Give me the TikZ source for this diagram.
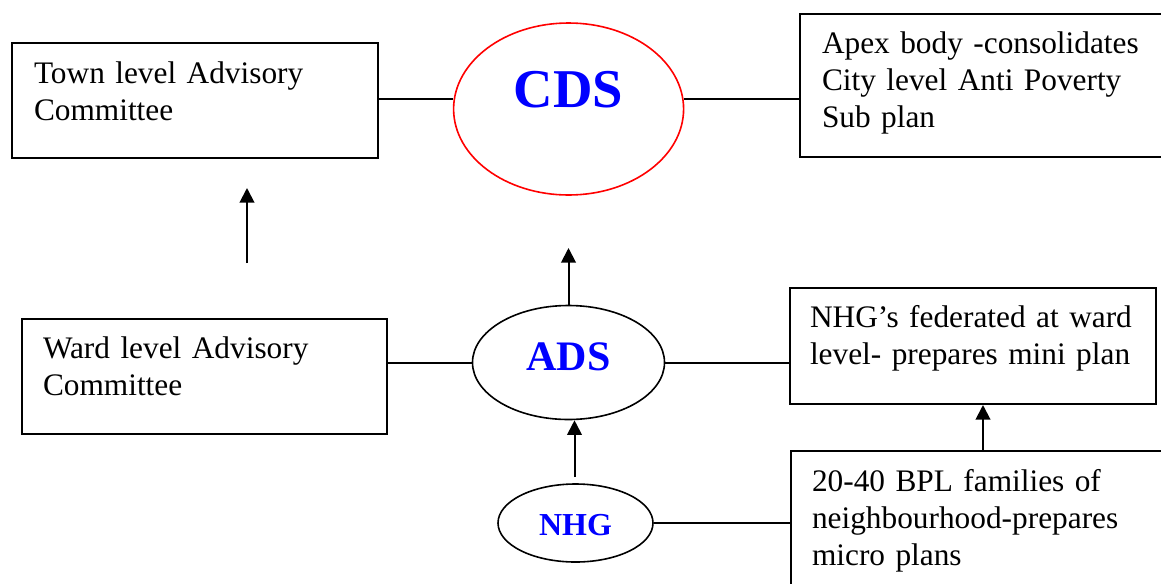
\documentclass[tikz,border=0pt]{standalone}
\usepackage{fontspec}
\setmainfont{Liberation Serif}
\usetikzlibrary{arrows.meta,shapes.geometric}
\begin{document}
\begin{tikzpicture}[x=0.75pt,y=-0.75pt,
  box/.style={draw, line width=1.5pt, rectangle, anchor=north west, align=left,
    inner ysep=0pt, font=\fontsize{23.5pt}{27.75pt}\selectfont},
  oval/.style={draw, ellipse, inner sep=0pt, line width=1.2pt},
  conn/.style={line width=1.5pt},
  arr/.style={line width=1.5pt, -{Triangle[length=11pt,width=11pt]}}]
\useasboundingbox (0,0) rectangle (1161,583);
\clip (0,0) rectangle (1161,583);

% boxes
\node[box, inner xsep=16.5pt, text width=241.5pt, text height=30pt, text depth=56.25pt]
  (town) at (11,42) {\mbox{Town level Advisory}\\Committee};
\node[box, inner xsep=16.5pt, text width=249pt, text height=29.25pt, text depth=78pt]
  (apex) at (799,13) {\mbox{Apex body -consolidates}\\\mbox{City level Anti Poverty}\\Sub plan};
\node[box, inner xsep=15.75pt, text width=242.25pt, text height=29.25pt, text depth=57pt]
  (ward) at (21,318) {\mbox{Ward level Advisory}\\Committee};
\node[box, inner xsep=15pt, text width=244.5pt, text height=29.25pt, text depth=57.75pt]
  (fed) at (789,287) {\mbox{NHG’s federated at ward}\\\mbox{level- prepares mini plan}};
\node[box, inner xsep=15.75pt, text width=257.25pt, text height=30pt, text depth=112.5pt]
  (bpl) at (790,450) {\mbox{20-40 BPL families of}\\\mbox{neighbourhood-prepares}\\\mbox{micro plans}};

% ellipses
\node[oval, draw=red, minimum width=172.5pt, minimum height=129pt,
  text=blue, font=\fontsize{41pt}{41pt}\selectfont\bfseries,
  text height=30pt, text depth=33pt] (cds) at (568.6,109) {CDS};
\node[oval, minimum width=144pt, minimum height=85.5pt,
  text=blue, font=\fontsize{31.5pt}{31.5pt}\selectfont\bfseries,
  text height=24pt, text depth=12pt] (ads) at (568.5,362.5) {ADS};
\node[oval, minimum width=116.25pt, minimum height=58.5pt,
  text=blue, font=\fontsize{24pt}{24pt}\selectfont\bfseries,
  text height=18pt, text depth=0pt] (nhg) at (575.5,523) {NHG};

% free arrow ends
\coordinate (upA) at (247,263);
\coordinate (upB) at (247,188);
\coordinate (adsTip) at (569,248);
\coordinate (nhgStart) at (574.5,477);
\coordinate (bplX) at (983,0);
\coordinate (lineY) at (0,99);

% plain connectors
\draw[conn] (town.east |- lineY) -- (cds.west |- lineY);
\draw[conn] (cds.east |- lineY) -- (apex.west |- lineY);
\draw[conn] (ward.east |- ads.west) -- (ads.west);
\draw[conn] (ads.east) -- (ads.east -| fed.west);
\draw[conn] (nhg.east) -- (nhg.east -| bpl.west);

% arrows
\draw[arr] (upA) -- (upB);
\draw[arr] (ads.north) -- (ads.north |- adsTip);
\draw[arr] (nhgStart) -- (nhgStart |- ads.south);
\draw[arr] (bplX |- bpl.north) -- (bplX |- fed.south);
\end{tikzpicture}
\end{document}
